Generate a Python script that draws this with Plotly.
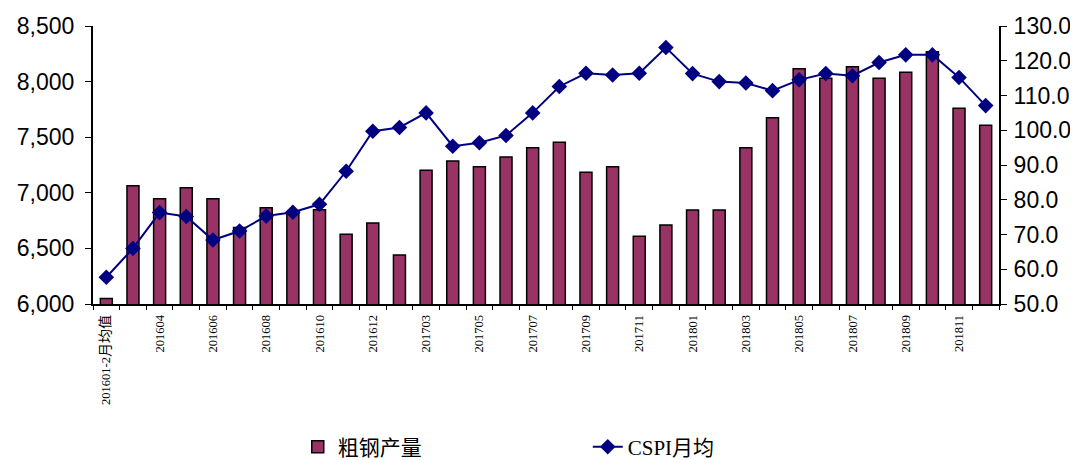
import re
import plotly.graph_objects as go

categories = ["201601-2月均值", "201603", "201604", "201605", "201606", "201607", "201608",
              "201609", "201610", "201611", "201612", "201702", "201703", "201704", "201705",
              "201706", "201707", "201708", "201709", "201710", "201711", "201712", "201801",
              "201802", "201803", "201804", "201805", "201806", "201807", "201808", "201809",
              "201810", "201811", "201812"]

steel_output = [6050, 7064, 6947, 7046, 6947, 6688, 6866, 6830, 6848, 6627, 6728, 6441,
                7202, 7286, 7235, 7322, 7406, 7454, 7184, 7235, 6609, 6710, 6845, 6845,
                7406, 7675, 8116, 8030, 8134, 8030, 8083, 8269, 7760, 7607]

cspi = [57.7, 66.0, 76.3, 75.2, 68.4, 71.0, 75.3, 76.4, 78.7, 88.2, 99.7, 100.8,
        105.0, 95.4, 96.4, 98.5, 105.0, 112.6, 116.4, 115.9, 116.4, 123.8, 116.3,
        114.0, 113.6, 111.4, 114.5, 116.3, 115.7, 119.5, 121.7, 121.7, 115.2, 107.1]


def style_label(s):
    # enlarge CJK characters, as in the reference's mixed-width font
    return re.sub(r"([\u4e00-\u9fff]+)", r"<span style='font-size:14px'>\1</span>", s)


tick_text = [style_label(c) if i % 2 == 0 else "" for i, c in enumerate(categories)]

serif = "Liberation Serif, SimSun, Noto Sans CJK SC, serif"
sans = "Arial, Liberation Sans, sans-serif"

fig = go.Figure()
fig.add_trace(go.Bar(
    x=categories, y=steel_output, name="粗钢产量",
    marker=dict(color="#993366", line=dict(color="black", width=1.5)),
    width=0.45, yaxis="y",
))
fig.add_trace(go.Scatter(
    x=categories, y=cspi, name="CSPI月均", mode="lines+markers",
    line=dict(color="#000080", width=2),
    marker=dict(symbol="diamond", size=12, color="#000080"),
    yaxis="y2",
))

fig.update_layout(
    width=1070, height=452,
    margin=dict(l=85, r=79, t=18, b=156, autoexpand=False),
    paper_bgcolor="white", plot_bgcolor="white",
    showlegend=True,
    legend=dict(orientation="h", x=0.226, xanchor="left", y=-0.515, yanchor="middle",
                font=dict(family=serif, size=21, color="black"),
                entrywidth=245, entrywidthmode="pixels"),
    xaxis=dict(
        type="category", tickmode="array", tickvals=categories, ticktext=tick_text,
        tickangle=-90, tickson="boundaries", ticks="outside", ticklen=4,
        tickcolor="black", showline=True, linecolor="black", linewidth=2,
        tickfont=dict(family=serif, size=12.5, color="black"), ticklabelstandoff=4,
        showgrid=False, range=[-0.5, 33.5], automargin=False,
    ),
    yaxis=dict(
        range=[6000, 8500], dtick=500, tickformat=",", showgrid=False,
        showline=True, linecolor="black", linewidth=2, ticks="outside",
        ticklen=6, tickcolor="black", ticklabelstandoff=6,
        tickfont=dict(family=sans, size=23, color="black"),
        zeroline=False, automargin=False,
    ),
    yaxis2=dict(
        range=[50, 130], dtick=10, tickformat=".1f", overlaying="y", side="right",
        showgrid=False, showline=True, linecolor="black", linewidth=2,
        ticks="outside", ticklen=6, tickcolor="black", ticklabelstandoff=2,
        tickfont=dict(family=sans, size=23, color="black"),
        zeroline=False, automargin=False,
    ),
    bargap=0.55,
)

fig.write_html("out.html")
